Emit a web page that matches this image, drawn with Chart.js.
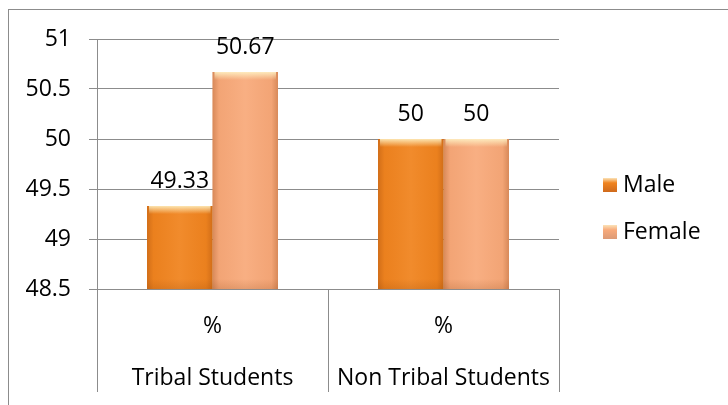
<!DOCTYPE html>
<html>
<head>
<meta charset="utf-8">
<script src="https://cdn.jsdelivr.net/npm/chart.js@4/dist/chart.umd.min.js"></script>
<style>
  html, body { margin: 0; padding: 0; background: #fff; }
  #wrap { width: 728px; height: 405px; }
</style>
</head>
<body>
<div id="wrap"><canvas id="myChart" width="728" height="405"></canvas></div>
<script>
// gender split, tribal vs non tribal students
var categories = [["%", "Tribal Students"], ["%", "Non Tribal Students"]];
var male = [49.33, 50];
var female = [50.67, 50];
var seriesNames = ["Male", "Female"];
var yTicks = [48.5, 49, 49.5, 50, 50.5, 51];

var barColors = ["#f0841f", "#f8aa7b"];
var swatchColors = ["#cf6a1c", "#dc9a76"];
var gridColor = "#8c8c8c";
var fontFamily = "'Open Sans', sans-serif";
var fontSize = 23;

// outer frame of the chart
var framePlugin = {
    id: "frame",
    beforeDraw: function(chart) {
        var ctx = chart.ctx;
        ctx.save();
        ctx.fillStyle = "#fff";
        ctx.fillRect(0, 0, chart.width, chart.height);
        ctx.strokeStyle = gridColor;
        ctx.lineWidth = 1;
        ctx.strokeRect(8.5, 9.5, 900, 600);
        ctx.restore();
    }
};

// bevel look on the bars + value labels on top
var barDeco = {
    id: "barDeco",
    afterDatasetsDraw: function(chart) {
        var ctx = chart.ctx;
        var area = chart.chartArea;
        chart.data.datasets.forEach(function(ds, di) {
            var meta = chart.getDatasetMeta(di);
            meta.data.forEach(function(bar, i) {
                var l = bar.x - bar.width / 2, r = bar.x + bar.width / 2;
                var t = bar.y, b = Math.min(bar.base, area.bottom);
                ctx.save();
                ctx.beginPath();
                ctx.rect(area.left, area.top, area.right - area.left, area.bottom - area.top);
                ctx.clip();
                var g = ctx.createLinearGradient(l, 0, r, 0);
                g.addColorStop(0, "rgba(140,60,10,0.30)");
                g.addColorStop(0.1, "rgba(140,60,10,0.05)");
                g.addColorStop(0.5, "rgba(255,255,255,0.06)");
                g.addColorStop(0.9, "rgba(140,60,10,0.05)");
                g.addColorStop(1, "rgba(140,60,10,0.30)");
                ctx.fillStyle = g;
                ctx.fillRect(l, t, r - l, b - t);
                var h = ctx.createLinearGradient(0, t, 0, t + 8);
                h.addColorStop(0, "rgba(255,245,200,0.85)");
                h.addColorStop(1, "rgba(255,245,200,0)");
                ctx.fillStyle = h;
                ctx.fillRect(l + 2, t, r - l - 4, 8);
                var v = ctx.createLinearGradient(0, b - 10, 0, b);
                v.addColorStop(0, "rgba(120,50,0,0)");
                v.addColorStop(1, "rgba(120,50,0,0.15)");
                ctx.fillStyle = v;
                ctx.fillRect(l, b - 10, r - l, 10);
                ctx.restore();

                ctx.save();
                ctx.fillStyle = "#000";
                ctx.font = fontSize + "px " + fontFamily;
                ctx.textAlign = "center";
                ctx.textBaseline = "alphabetic";
                ctx.fillText(String(ds.data[i]), bar.x, t - 18);
                ctx.restore();
            });
        });
    }
};

// legend on the right side
var sideLegend = {
    id: "sideLegend",
    afterDraw: function(chart) {
        var ctx = chart.ctx;
        var x = 603, y0 = 185, step = 47;
        chart.data.datasets.forEach(function(ds, i) {
            var cy = y0 + i * step;
            ctx.save();
            var g = ctx.createLinearGradient(0, cy - 7, 0, cy + 7);
            g.addColorStop(0, "#fbe3b8");
            g.addColorStop(0.35, barColors[i]);
            g.addColorStop(1, swatchColors[i]);
            ctx.fillStyle = g;
            ctx.fillRect(x, cy - 7, 14, 14);
            ctx.fillStyle = "#000";
            ctx.font = fontSize + "px " + fontFamily;
            ctx.textBaseline = "middle";
            ctx.textAlign = "left";
            ctx.fillText(ds.label, x + 20, cy);
            ctx.restore();
        });
    }
};

var myChart = document.getElementById("myChart").getContext("2d");
var chart = new Chart(myChart, {
    type: "bar",
    data: {
        labels: categories,
        datasets: [
            {
                label: seriesNames[0],
                data: male,
                backgroundColor: barColors[0],
                borderWidth: 0,
                categoryPercentage: 0.567,
                barPercentage: 1
            },
            {
                label: seriesNames[1],
                data: female,
                backgroundColor: barColors[1],
                borderWidth: 0,
                categoryPercentage: 0.567,
                barPercentage: 1
            }
        ]
    },
    options: {
        responsive: false,
        animation: false,
        devicePixelRatio: 1,
        layout: { padding: { left: 0, right: 169, top: 39, bottom: 0 } },
        plugins: {
            legend: { display: false },
            tooltip: { enabled: false }
        },
        scales: {
            x: {
                grid: {
                    offset: true,
                    drawOnChartArea: false,
                    tickLength: 103,
                    color: gridColor
                },
                border: { color: gridColor },
                ticks: {
                    color: "#000",
                    font: { family: fontFamily, size: fontSize, lineHeight: 52 / fontSize },
                    padding: -92,
                    maxRotation: 0,
                    minRotation: 0,
                    autoSkip: false
                },
                afterFit: function(s) { s.height = 116; }
            },
            y: {
                min: 48.5,
                max: 51,
                afterBuildTicks: function(s) {
                    s.ticks = yTicks.map(function(v) { return { value: v }; });
                },
                grid: { color: gridColor, tickLength: 8 },
                border: { color: gridColor },
                ticks: {
                    color: "#000",
                    font: { family: fontFamily, size: fontSize },
                    padding: 18,
                    callback: function(v) { return String(v); }
                },
                afterFit: function(s) { s.width = 97; }
            }
        }
    },
    plugins: [framePlugin, barDeco, sideLegend]
});
</script>
</body>
</html>
